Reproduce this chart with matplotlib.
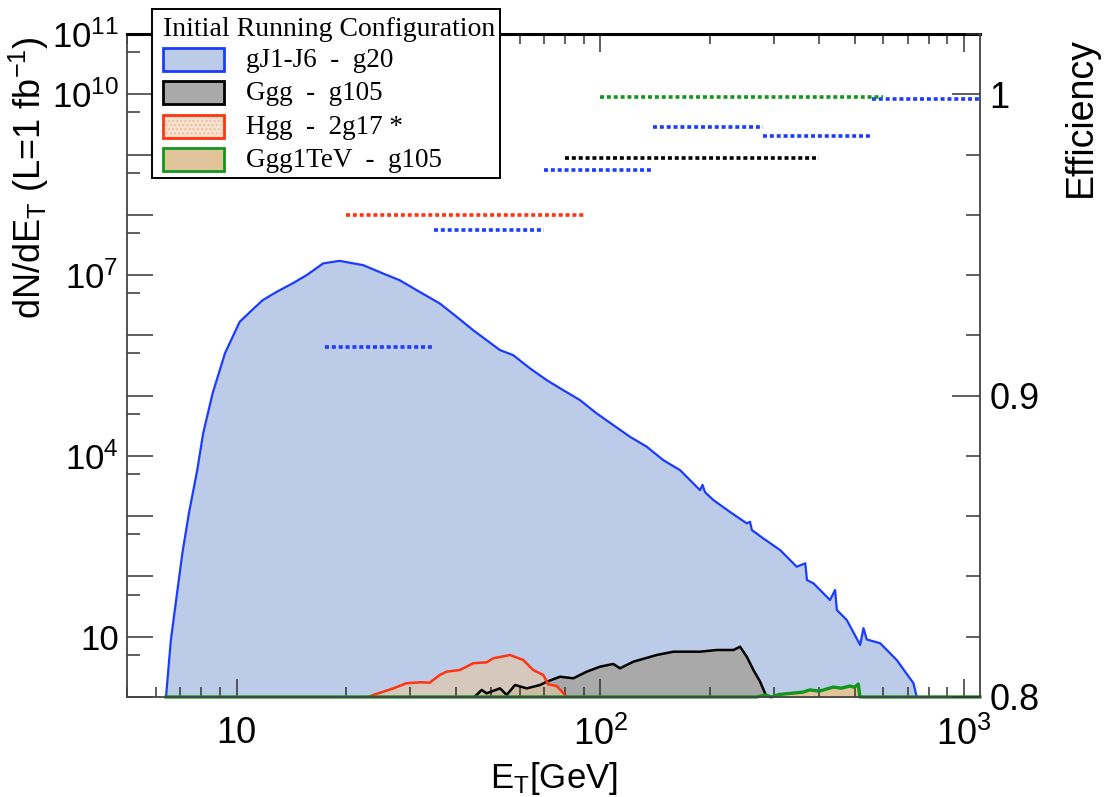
import numpy as np
import matplotlib
matplotlib.use('Agg')
import matplotlib.pyplot as plt
from matplotlib.ticker import LogLocator, FixedLocator, MultipleLocator, FuncFormatter, NullFormatter
from matplotlib.patches import Rectangle

plt.rcParams['font.family'] = ['Liberation Sans', 'DejaVu Sans']
plt.rcParams['mathtext.fontset'] = 'custom'
plt.rcParams['mathtext.rm'] = 'Liberation Sans'
plt.rcParams['mathtext.it'] = 'Liberation Sans:italic'
plt.rcParams['mathtext.bf'] = 'Liberation Sans:bold'

# gJ1-J6 spectrum (E_T in GeV, events per GeV at 1 fb^-1)
jet_et = [6.4, 6.6, 6.9, 7.1, 7.4, 7.8, 8.1, 8.6, 9.3, 10.2, 10.9, 11.8, 12.9, 14.3, 15.6,
          17.3, 19.2, 22.3, 25.3, 28.1, 31.3, 36.2, 40.3, 44.7, 53.0, 57.6, 64.1, 71.2, 79.1,
          88.0, 97.7, 108.6, 120.7, 134.2, 149, 165.7, 184, 188, 191, 194, 204.6, 227, 252.7,
          258, 261, 280.5, 312.1, 346.6, 366, 370, 385.3, 428, 442, 447, 476, 518, 529, 540,
          588, 653, 726, 741]
jet_n = [1, 8.8, 67, 244, 1125, 5820, 2.39e4, 1.1e5, 5.07e5, 1.67e6, 2.45e6, 3.83e6, 5.27e6,
         7.34e6, 1.0e7, 1.56e7, 1.72e7, 1.46e7, 1.06e7, 8.2e6, 5.6e6, 3.38e6, 2.03e6, 1.22e6,
         5.69e5, 4.7e5, 2.83e5, 1.81e5, 1.23e5, 8.4e4, 5.07e4, 3.24e4, 2.07e4, 1.42e4, 8.5e3,
         5.8e3, 3.07e3, 2700, 3300, 2500, 1850, 1180, 760, 807, 588, 428, 274, 145, 165, 87,
         77, 40.6, 59.5, 27.7, 18.9, 7.3, 13.9, 9.0, 7.8, 4.1, 1.69, 1]

# Ggg
ggg_et = [45.0, 45.7, 47.2, 48.7, 53.0, 55.3, 58.3, 62.8, 68.3, 71.2, 77.5, 84.3, 91.8, 99.8,
          108.6, 113.3, 123.3, 142.9, 158.8, 188.1, 209, 232.3, 242.2, 252.7, 263.6, 275,
          283.8, 286.8]
ggg_n = [1.0, 1.08, 1.31, 1.15, 1.39, 1.08, 1.58, 1.39, 1.58, 1.79, 2.17, 2.04, 2.63, 3.18,
         3.53, 2.99, 3.85, 4.97, 5.64, 5.64, 6.02, 6.02, 6.82, 4.66, 2.80, 1.79, 1.15, 1.0]

# Hgg
hgg_et = [23.0, 23.8, 25.3, 27.0, 29.3, 31.9, 34.0, 36.2, 37.8, 41.1, 44.7, 48.7, 50.8, 56.5,
          61.4, 65.4, 69.7, 71.9, 75.9, 80.0, 81.0]
hgg_n = [1.0, 1.08, 1.22, 1.39, 1.69, 1.75, 1.73, 2.32, 2.63, 2.80, 3.62, 3.76, 4.38, 4.97,
         4.11, 2.80, 2.32, 1.62, 1.52, 1.08, 1.0]

# Ggg1TeV
tev_et = [6.4, 269, 285, 295, 310, 339, 360, 377, 400, 437, 460, 486, 500, 512, 517, 1106]
tev_n = [1, 1, 1.08, 1.0, 1.1, 1.16, 1.2, 1.31, 1.25, 1.46, 1.4, 1.52, 1.45, 1.64, 1, 1]

# trigger efficiency per E_T bin
eff_jet_lo = [17.5, 35, 70, 140, 280, 560]
eff_jet_hi = [35, 70, 140, 280, 560, 1120]
eff_jet = [0.916, 0.955, 0.975, 0.989, 0.986, 0.9985]
eff_hgg = ([20], [90], [0.960])
eff_ggg = ([80], [400], [0.979])
eff_tev = ([100], [600], [0.999])

c_blue, c_bluefill = '#1a3cff', '#bccbe8'
c_red = '#ff3410'
c_green = '#14961e'
c_tan = '#e2c49a'

fig = plt.figure(figsize=(11.13, 7.97), dpi=100)
ax = fig.add_axes([0.1141, 0.1255, 0.7664, 0.8319])

ax.fill_between(jet_et, jet_n, 0.1, color=c_bluefill, lw=0)
ax.plot(jet_et, jet_n, color=c_blue, lw=1.6)
ax.fill_between(ggg_et, ggg_n, 0.1, color='#a9a9a9', lw=0)
ax.plot(ggg_et, ggg_n, color='black', lw=1.8)
ax.fill_between(hgg_et, hgg_n, 0.1, color='#e9c6a0', alpha=0.6, lw=0)
ax.plot(hgg_et, hgg_n, color=c_red, lw=1.8)
ax.fill_between(tev_et, tev_n, 0.1, color=c_tan, lw=0)
ax.plot(tev_et, tev_n, color=c_green, lw=2.4, clip_on=False)

ax.set_xscale('log')
ax.set_yscale('log')
ax.set_xlim(5, 1106)
ax.set_ylim(1, 1e11)

ylab = {11: '$10^{11}$', 10: '$10^{10}$', 7: '$10^{7}$', 4: '$10^{4}$', 1: '10'}
xlab = {1: '10', 2: '$10^{2}$', 3: '$10^{3}$'}
ax.yaxis.set_major_locator(LogLocator(base=10, numticks=40))
ax.yaxis.set_minor_locator(LogLocator(base=10, subs=[5], numticks=40))
ax.yaxis.set_major_formatter(FuncFormatter(lambda v, p: ylab.get(int(round(np.log10(v))), '')))
ax.yaxis.set_minor_formatter(NullFormatter())
ax.xaxis.set_major_locator(LogLocator(base=10, numticks=10))
ax.xaxis.set_minor_locator(LogLocator(base=10, subs=np.arange(2, 10), numticks=10))
ax.xaxis.set_major_formatter(FuncFormatter(lambda v, p: xlab.get(int(round(np.log10(v))), '')))
ax.xaxis.set_minor_formatter(NullFormatter())

# efficiency overlay on the right axis
ax2 = ax.twinx()
ax2.set_ylim(0.8, 1.02)
for lo, hi, e in zip(eff_jet_lo, eff_jet_hi, eff_jet):
    ax2.plot([lo, hi], [e, e], color=c_blue, lw=2.6, ls=(0, (1.1, 0.8)))
for (lo, hi, e), col in [(eff_hgg, c_red), (eff_ggg, 'black'), (eff_tev, c_green)]:
    ax2.plot([lo[0], hi[0]], [e[0], e[0]], color=col, lw=2.6, ls=(0, (1.1, 0.8)))
ax2.set_xlim(5, 1106)
ax2.yaxis.set_major_locator(FixedLocator([0.8, 0.9, 1.0]))
ax2.yaxis.set_minor_locator(MultipleLocator(0.02))
ax2.yaxis.set_major_formatter(FuncFormatter(lambda v, p: '1' if abs(v - 1) < 1e-6 else f'{v:.1f}'))

tc = '#333333'
ax.tick_params(axis='y', which='major', direction='in', length=19, width=1.1, color=tc,
               left=True, right=False, labelsize=25, pad=6)
ax.tick_params(axis='y', which='minor', direction='in', length=9.5, width=1.1, color=tc,
               left=True, right=False)
ax.tick_params(axis='x', which='major', direction='in', length=13, width=1.1, color=tc,
               top=True, bottom=True, labeltop=False, labelsize=26, pad=14)
ax.tick_params(axis='x', which='minor', direction='in', length=7, width=1.1, color=tc,
               top=True, bottom=True)
ax2.tick_params(axis='y', which='major', direction='in', length=20, width=1.1, color=tc,
                labelsize=26, pad=7)
ax2.tick_params(axis='y', which='minor', direction='in', length=10, width=1.1, color=tc)

for s in ['left', 'bottom']:
    ax.spines[s].set_color('#444444')
    ax.spines[s].set_linewidth(1.3)
ax.spines['top'].set_color('black')
ax.spines['top'].set_linewidth(2.2)
ax.spines['right'].set_visible(False)
for s in ['left', 'top', 'bottom']:
    ax2.spines[s].set_visible(False)
ax2.spines['right'].set_color('#444444')
ax2.spines['right'].set_linewidth(1.3)

fig.text(0.026, 0.777, r'dN/dE$_{\mathrm{T}}$ (L=1 fb$^{-1}$)', rotation=90,
         ha='center', va='center', fontsize=26)
fig.text(0.971, 0.853, 'Efficiency', rotation=90, ha='center', va='center', fontsize=27)
fig.text(0.498, 0.0113, r'E$_{\mathrm{T}}$[GeV]', ha='center', va='baseline', fontsize=25)

# legend box
lax = fig.add_axes([0.1366, 0.7767, 0.3127, 0.2120])
lax.set_xlim(0, 348)
lax.set_ylim(169, 0)
lax.set_xticks([])
lax.set_yticks([])
for s in lax.spines.values():
    s.set_color('black')
    s.set_linewidth(1.4)
serif = ['Liberation Serif', 'DejaVu Serif']
lax.text(10.5, 27, 'Initial Running Configuration', family=serif, fontsize=20, va='baseline')
entries = [('gJ1-J6  -  g20', c_bluefill, c_blue, None),
           ('Ggg  -  g105', '#a9a9a9', 'black', None),
           ('Hgg  -  2g17 *', '#f7e2d0', c_red, '....'),
           ('Ggg1TeV  -  g105', c_tan, c_green, None)]
for i, (name, fc, ec, hatch) in enumerate(entries):
    top = 39 + 33.5 * i
    if hatch:
        lax.add_patch(Rectangle((11, top), 61, 23, facecolor=fc, edgecolor='#ecbf9c',
                                hatch=hatch, lw=0))
        lax.add_patch(Rectangle((11, top), 61, 23, facecolor='none', edgecolor=ec, lw=2))
    else:
        lax.add_patch(Rectangle((11, top), 61, 23, facecolor=fc, edgecolor=ec, lw=2))
    lax.text(94, top + 19, name, family=serif, fontsize=19.5, va='baseline')

fig.savefig('out.png', dpi=100)
